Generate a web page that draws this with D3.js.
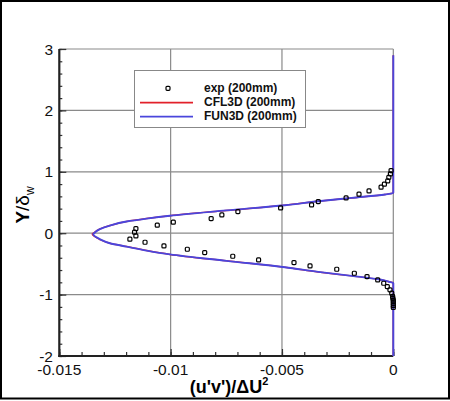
<!DOCTYPE html>
<html>
<head>
<meta charset="utf-8">
<script src="https://cdn.jsdelivr.net/npm/d3@7"></script>
<style>
  body { margin: 0; background: #fff; }
  text { font-family: "Liberation Sans", Arial, Helvetica, sans-serif; }
</style>
</head>
<body>
<div id="d3-container"></div>
<script>
// Dimensions
const width = 450, height = 401;

// exp (200mm) data points
const expX = [-0.0001, -0.00013, -0.0002, -0.00025, -0.0004, -0.00055, -0.00109, -0.00154, -0.00212, -0.00337,
  -0.00367, -0.00506, -0.00698, -0.0077, -0.00818, -0.00988, -0.0106, -0.01156, -0.01162, -0.01156,
  -0.01183, -0.01115, -0.0103, -0.00925, -0.00847, -0.00721, -0.00605, -0.00446, -0.00374, -0.00254,
  -0.00175, -0.00118, -0.0007, -0.00043, -0.00027, -0.00015, -0.00007, -0.00003, -0.00002, 0, 0, 0, 0, 0];
const expY = [1.02, 0.966, 0.91, 0.852, 0.798, 0.749, 0.689, 0.635, 0.575, 0.515,
  0.461, 0.412, 0.352, 0.298, 0.238, 0.179, 0.13, 0.075, 0.016, -0.044,
  -0.098, -0.147, -0.207, -0.261, -0.316, -0.375, -0.435, -0.478, -0.533, -0.587,
  -0.652, -0.706, -0.761, -0.815, -0.869, -0.923, -0.977, -1.03, -1.06, -1.09, -1.12, -1.15, -1.18, -1.21];

// CFL3D / FUN3D profiles (y from top to bottom)
const cflY = [2.9, 0.66, 0.645, 0.63, 0.575, 0.52, 0.456, 0.371, 0.285, 0.238, 0.19, 0.124, 0.065, 0.0, -0.015, -0.098, -0.163, -0.218, -0.283, -0.345, -0.45, -0.554, -0.63, -0.695, -0.75, -0.79, -0.81, -2.0];
const cflX = [0, 0, -0.0001, -0.00037, -0.00187, -0.00337, -0.00487, -0.0075, -0.01003, -0.01108, -0.01198, -0.01273, -0.0132, -0.01347, -0.01352, -0.0132, -0.01273, -0.01198, -0.01108, -0.01003, -0.0075, -0.00487, -0.00337, -0.00187, -0.00067, -0.0002, 0, 0];
const funY = [2.9, 0.66, 0.645, 0.63, 0.575, 0.52, 0.456, 0.371, 0.285, 0.238, 0.19, 0.124, 0.065, 0.0, -0.015, -0.098, -0.163, -0.218, -0.283, -0.345, -0.45, -0.554, -0.63, -0.695, -0.75, -0.79, -0.81, -2.0];
const funX = [0, 0, -0.0001, -0.00037, -0.00187, -0.00337, -0.00487, -0.0075, -0.01003, -0.01108, -0.01198, -0.01273, -0.01318, -0.01344, -0.01348, -0.01318, -0.01273, -0.01198, -0.01108, -0.01003, -0.0075, -0.00487, -0.00337, -0.00187, -0.00067, -0.0002, 0, 0];

// ticks
const xTicks = [-0.015, -0.01, -0.005, 0];
const xTickLabels = ["-0.015", "-0.01", "-0.005", "0"];
const yTicks = [-2, -1, 0, 1, 2, 3];
const xGrid = [-0.01, -0.005, 0];
const yGrid = [-1, 0, 1, 2, 3];

const legendNames = ["exp (200mm)", "CFL3D (200mm)", "FUN3D (200mm)"];
const red = "#e2202a", blue = "#4a46dc";

const svg = d3.select("#d3-container").append("svg")
  .attr("width", width)
  .attr("height", height)
  .style("background", "#fff");

const x = d3.scaleLinear().domain([-0.015, 0]).range([59.3, 393.3]);
const y = d3.scaleLinear().domain([-2, 3]).range([356, 49]);

// outer frame
svg.append("rect")
  .attr("x", 1).attr("y", 1).attr("width", 448).attr("height", 397.5)
  .attr("fill", "none").attr("stroke", "#000").attr("stroke-width", 2);

// grid
svg.selectAll(".vgrid").data(xGrid).enter().append("line")
  .attr("x1", d => x(d)).attr("x2", d => x(d))
  .attr("y1", y(-2)).attr("y2", y(3))
  .attr("stroke", "#8a8a8a").attr("stroke-width", 1.2);
svg.selectAll(".hgrid").data(yGrid).enter().append("line")
  .attr("x1", x(-0.015)).attr("x2", x(0))
  .attr("y1", d => y(d)).attr("y2", d => y(d))
  .attr("stroke", "#8a8a8a").attr("stroke-width", 1.2);

// axes (inward ticks)
const xMinor = d3.range(-15, 1).map(d => d * 0.001);
const yMinor = d3.range(-10, 16).map(d => d * 0.2);

const xAxis = svg.append("g").attr("transform", `translate(0,${y(-2)})`);
xAxis.call(d3.axisBottom(x).tickValues(xMinor).tickSize(-4).tickFormat(""));
xAxis.append("g").call(d3.axisBottom(x).tickValues(xTicks).tickSize(-7).tickFormat(""));
xAxis.selectAll(".domain").remove();
xAxis.selectAll("line").attr("stroke", "#333").attr("stroke-width", 1.2);

const yAxis = svg.append("g").attr("transform", `translate(${x(-0.015)},0)`);
yAxis.call(d3.axisLeft(y).tickValues(yMinor).tickSize(-3).tickFormat(""));
yAxis.append("g").call(d3.axisLeft(y).tickValues(yTicks).tickSize(-7).tickFormat(""));
yAxis.selectAll(".domain").remove();
yAxis.selectAll("line").attr("stroke", "#333").attr("stroke-width", 1.2);

svg.append("line").attr("x1", x(-0.015)).attr("x2", x(-0.015)).attr("y1", y(3)).attr("y2", y(-2) + 1)
  .attr("stroke", "#222").attr("stroke-width", 2.2);
svg.append("line").attr("x1", x(-0.015) - 1).attr("x2", x(0)).attr("y1", y(-2)).attr("y2", y(-2))
  .attr("stroke", "#222").attr("stroke-width", 2.2);

// tick labels
svg.selectAll(".xlab").data(xTicks).enter().append("text")
  .attr("x", d => x(d)).attr("y", 375)
  .attr("text-anchor", "middle").attr("font-size", 15.5).attr("fill", "#111")
  .text((d, i) => xTickLabels[i]);
svg.selectAll(".ylab").data(yTicks).enter().append("text")
  .attr("x", 53).attr("y", d => y(d) + 5.5)
  .attr("text-anchor", "end").attr("font-size", 15.5).attr("fill", "#111")
  .text(d => d);

// axis titles
const xt = svg.append("text").attr("x", 229).attr("y", 393)
  .attr("text-anchor", "middle").attr("font-size", 18).attr("font-weight", "bold");
xt.append("tspan").text("(u'v')/\u0394U");
xt.append("tspan").attr("font-size", 11).attr("dy", -8).text("2");

const yt = svg.append("text")
  .attr("transform", "translate(29,205) rotate(-90)")
  .attr("text-anchor", "middle").attr("font-size", 19).attr("font-weight", "bold");
yt.append("tspan").text("Y");
yt.append("tspan").attr("font-weight", "normal").text("/\u03b4");
yt.append("tspan").attr("font-size", 12).attr("font-weight", "normal").attr("dy", 5).text("w");

// lines
function profile(xs, ys) {
  return d3.line().x(d => x(d[0])).y(d => y(d[1])).curve(d3.curveMonotoneY)(xs.map((v, i) => [v, ys[i]]));
}
svg.append("path").attr("d", profile(cflX, cflY))
  .attr("fill", "none").attr("stroke", red).attr("stroke-width", 1.5);
svg.append("path").attr("d", profile(funX, funY))
  .attr("fill", "none").attr("stroke", blue).attr("stroke-width", 1.9);

// exp symbols
svg.selectAll(".exp").data(expX.map((v, i) => [v, expY[i]])).enter().append("rect")
  .attr("x", d => x(d[0]) - 2).attr("y", d => y(d[1]) - 2)
  .attr("width", 4).attr("height", 4).attr("rx", 1)
  .attr("fill", "none").attr("stroke", "#000").attr("stroke-width", 1.2);

// legend
const lg = svg.append("g");
lg.append("rect").attr("x", 134.5).attr("y", 70.5).attr("width", 171).attr("height", 57)
  .attr("fill", "#fff").attr("stroke", "#888").attr("stroke-width", 1);
lg.append("rect").attr("x", 166).attr("y", 86.3).attr("width", 4).attr("height", 4).attr("rx", 1)
  .attr("fill", "none").attr("stroke", "#000").attr("stroke-width", 1.2);
lg.append("line").attr("x1", 140).attr("x2", 193).attr("y1", 102.7).attr("y2", 102.7)
  .attr("stroke", red).attr("stroke-width", 1.8);
lg.append("line").attr("x1", 140).attr("x2", 193).attr("y1", 116.7).attr("y2", 116.7)
  .attr("stroke", blue).attr("stroke-width", 1.8);
lg.selectAll(".ltxt").data(legendNames).enter().append("text")
  .attr("x", 204).attr("y", (d, i) => 92.3 + i * 14)
  .attr("font-size", 12).attr("font-weight", "bold").attr("fill", "#111")
  .text(d => d);
</script>
</body>
</html>
